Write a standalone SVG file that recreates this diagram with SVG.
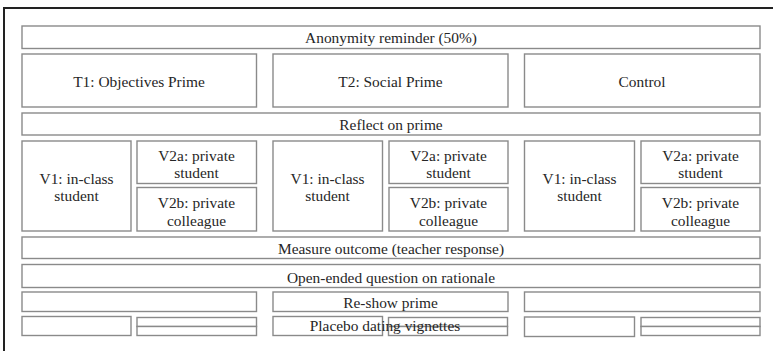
<svg xmlns="http://www.w3.org/2000/svg" width="773" height="351" viewBox="0 0 773 351">
<style>
.b{fill:#fff;stroke:#8a8a8a;stroke-width:1.4}
.t{font-family:"Liberation Serif","Times New Roman",serif;font-size:15.4px;fill:#262626;text-anchor:middle;dominant-baseline:central}
</style>
<rect width="773" height="351" fill="#fff"/>
<path id="frame" d="M4,351 V8 H773" fill="none" stroke="#222" stroke-width="2"/>
<g id="anonymity"><rect class="b" x="22" y="26" width="738" height="22.5"/><text class="t" x="391" y="37.5">Anonymity reminder (50%)</text></g>
<g id="t1"><rect class="b" x="22" y="54" width="234.5" height="53"/><text class="t" x="139" y="81">T1: Objectives Prime</text></g>
<g id="t2"><rect class="b" x="273" y="54" width="235" height="53"/><text class="t" x="390.5" y="81">T2: Social Prime</text></g>
<g id="control"><rect class="b" x="524.5" y="54" width="235.5" height="53"/><text class="t" x="642" y="81">Control</text></g>
<g id="reflect"><rect class="b" x="22" y="113" width="738" height="22"/><text class="t" x="391" y="124">Reflect on prime</text></g>

<g id="t1-v1"><rect class="b" x="22" y="141" width="109" height="90"/><text class="t" x="76.5" y="178">V1: in-class</text><text class="t" x="76.5" y="195">student</text></g>
<g id="t1-v2a"><rect class="b" x="137" y="141" width="119.5" height="42.5"/><text class="t" x="196.5" y="155">V2a: private</text><text class="t" x="196.5" y="172.5">student</text></g>
<g id="t1-v2b"><rect class="b" x="137" y="187.5" width="119.5" height="43.5"/><text class="t" x="196.5" y="202">V2b: private</text><text class="t" x="196.5" y="220">colleague</text></g>

<g id="t2-v1"><rect class="b" x="273" y="141" width="109.5" height="90"/><text class="t" x="327.5" y="178">V1: in-class</text><text class="t" x="327.5" y="195">student</text></g>
<g id="t2-v2a"><rect class="b" x="389" y="141" width="119" height="42.5"/><text class="t" x="448.5" y="155">V2a: private</text><text class="t" x="448.5" y="172.5">student</text></g>
<g id="t2-v2b"><rect class="b" x="389" y="187.5" width="119" height="43.5"/><text class="t" x="448.5" y="202">V2b: private</text><text class="t" x="448.5" y="220">colleague</text></g>

<g id="c-v1"><rect class="b" x="524.5" y="141" width="110" height="90"/><text class="t" x="579.5" y="178">V1: in-class</text><text class="t" x="579.5" y="195">student</text></g>
<g id="c-v2a"><rect class="b" x="641" y="141" width="119" height="42.5"/><text class="t" x="700.5" y="155">V2a: private</text><text class="t" x="700.5" y="172.5">student</text></g>
<g id="c-v2b"><rect class="b" x="641" y="187.5" width="119" height="43.5"/><text class="t" x="700.5" y="202">V2b: private</text><text class="t" x="700.5" y="220">colleague</text></g>

<g id="measure"><rect class="b" x="22" y="237" width="738" height="21.5"/><text class="t" x="391" y="248">Measure outcome (teacher response)</text></g>
<g id="open"><rect class="b" x="22" y="264.5" width="738" height="23"/><text class="t" x="391" y="277">Open-ended question on rationale</text></g>

<g id="reshow-left"><rect class="b" x="22" y="292" width="234.5" height="19.5"/></g>
<g id="reshow"><rect class="b" x="273" y="292" width="235" height="19.5"/><text class="t" x="390.5" y="302">Re-show prime</text></g>
<g id="reshow-right"><rect class="b" x="524.5" y="292" width="235.5" height="19.5"/></g>

<g id="placebo-l1"><rect class="b" x="22" y="316.5" width="109" height="19"/></g>
<g id="placebo-l2"><rect class="b" x="137" y="317.5" width="119.5" height="9"/><rect class="b" x="137" y="326.5" width="119.5" height="9"/></g>
<g id="placebo-m1"><rect class="b" x="273" y="316.5" width="109.5" height="19"/></g>
<g id="placebo-m2"><rect class="b" x="388.5" y="317.5" width="119" height="9"/><rect class="b" x="388.5" y="326.5" width="119" height="9"/></g>
<g id="placebo-r1"><rect class="b" x="524.5" y="317" width="110" height="19.5"/></g>
<g id="placebo-r2"><rect class="b" x="641" y="317.5" width="119" height="9"/><rect class="b" x="641" y="326.5" width="119" height="9"/></g>
<text id="placebo-label" class="t" x="385" y="325.5">Placebo dating vignettes</text>
</svg>
